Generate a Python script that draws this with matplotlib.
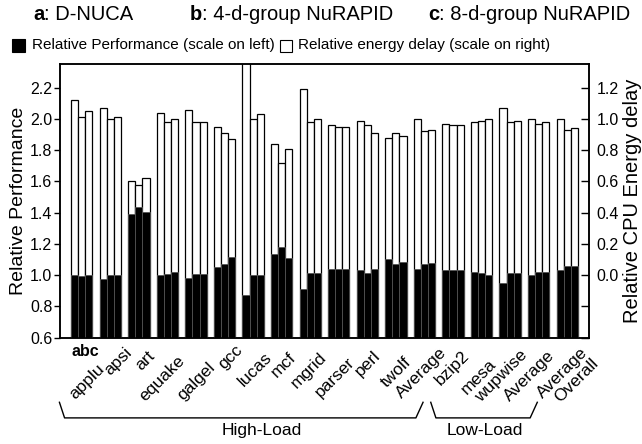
import matplotlib
matplotlib.use("Agg")
import matplotlib.pyplot as plt
import numpy as np
from matplotlib.lines import Line2D
from matplotlib.patches import Rectangle

plt.rcParams["font.family"] = ["Liberation Sans", "DejaVu Sans"]

benchmarks = ["applu", "apsi", "art", "equake", "galgel", "gcc", "lucas", "mcf", "mgrid",
              "parser", "perl", "twolf", "Average", "bzip2", "mesa", "wupwise", "Average",
              "Average\nOverall"]

# relative performance (left scale), configs a / b / c
perf_a = [1.00, 0.975, 1.394, 1.00, 0.984, 1.054, 0.873, 1.133, 0.914, 1.042, 1.033, 1.101,
          1.037, 1.033, 1.022, 0.952, 1.001, 1.033]
perf_b = [0.995, 1.00, 1.438, 1.01, 1.01, 1.071, 1.00, 1.180, 1.012, 1.042, 1.012, 1.074,
          1.071, 1.033, 1.012, 1.012, 1.020, 1.061]
perf_c = [1.00, 1.00, 1.404, 1.018, 1.01, 1.114, 1.00, 1.110, 1.012, 1.042, 1.042, 1.084,
          1.076, 1.033, 1.001, 1.012, 1.018, 1.061]

# relative CPU energy delay (right scale), configs a / b / c
ed_a = [1.12, 1.07, 0.60, 1.04, 1.06, 0.95, 1.45, 0.84, 1.19, 0.96, 0.99, 0.88,
        1.00, 0.97, 0.98, 1.07, 1.00, 1.00]
ed_b = [1.01, 1.00, 0.58, 0.98, 0.98, 0.91, 1.00, 0.72, 0.98, 0.95, 0.96, 0.91,
        0.92, 0.96, 0.99, 0.98, 0.97, 0.93]
ed_c = [1.05, 1.01, 0.62, 1.00, 0.98, 0.87, 1.03, 0.81, 1.00, 0.95, 0.91, 0.89,
        0.93, 0.96, 1.00, 0.99, 0.98, 0.94]

groups = [("High-Load", 0, 12, 6.3), ("Low-Load", 13, 16, 14.1)]

# label placement tweaks (pixels): shift right of group centre, drop below axis
lab_dx = [15, 14, 8, 10, 11, 10, 11, 7, 9, 8, 5, 8, 14, 9, 7, 9, 8, 13]
lab_dy = [24, 7, 10, 15, 22, 5, 12, 12, 12, 17, 10, 17, 7, 10, 19, 10, 10, 7]

W, H = 642, 444
fig = plt.figure(figsize=(W / 100, H / 100), dpi=100)
ax = fig.add_axes([60 / W, 1 - 337.7 / H, 529 / W, 273.7 / H])
ax2 = ax.twinx()
ax.set_zorder(ax2.get_zorder() + 1)
ax.patch.set_visible(False)

x = np.arange(len(benchmarks))
bw = 0.25
for off, ed in zip([-bw, 0, bw], [ed_a, ed_b, ed_c]):
    ax2.bar(x + off, np.array(ed) + 0.4, bottom=-0.4, width=bw, facecolor="white",
            edgecolor="black", linewidth=0.9)
for off, pf in zip([-bw, 0, bw], [perf_a, perf_b, perf_c]):
    ax.bar(x + off, np.array(pf) - 0.6, bottom=0.6, width=bw, facecolor="black",
           edgecolor="#555555", linewidth=0.6)

ax.set_xlim(-0.76, 17.76)
ax.set_ylim(0.6, 2.352)
ax2.set_ylim(-0.4, 1.352)

ax.set_yticks(np.arange(0.6, 2.21, 0.2))
ax.set_yticklabels([f"{v:.1f}" for v in np.arange(0.6, 2.21, 0.2)])
ax2.set_yticks(np.arange(-0.4, 1.21, 0.2))
ax2.set_yticklabels(["", ""] + [f"{v:.1f}" for v in np.arange(0.0, 1.21, 0.2)])
ax.set_xticks([])
ax.tick_params(axis="y", direction="out", length=4, width=1, labelsize=11.5, pad=1.5)
ax2.tick_params(axis="y", direction="in", length=6, width=1, labelsize=11.5, pad=5.5)
for a in (ax, ax2):
    for s in a.spines.values():
        s.set_linewidth(1.1)

ax.set_ylabel("Relative Performance", fontsize=14, labelpad=2)
ax2.set_ylabel("Relative CPU Energy delay", fontsize=14.5, labelpad=3)

px = 0.72  # points per pixel
for i, name in enumerate(benchmarks):
    ax.annotate(name, xy=(i, 0), xycoords=("data", "axes fraction"),
                xytext=(lab_dx[i] * px, -lab_dy[i] * px), textcoords="offset points",
                rotation=45, rotation_mode="anchor", ha="right", va="top", fontsize=12.5,
                linespacing=1.0)

ax.text(0.12, -0.0486, "abc", transform=ax.get_xaxis_transform(), ha="center",
        va="center", fontsize=11.5, fontweight="bold")

# group brackets under the labels
yt, yb = -0.236, -0.293
for name, first, last, lx in groups:
    bx = [first - 0.78, first - 0.6, last - 0.3, last - 0.05]
    ax.add_line(Line2D(bx, [yt, yb, yb, yt], transform=ax.get_xaxis_transform(),
                       color="black", linewidth=1.0, clip_on=False))
    ax.text(lx, -0.34, name, transform=ax.get_xaxis_transform(), ha="center",
            va="center", fontsize=12.5)

# configuration key on top
keys = [("a", ": D-NUCA", 33), ("b", ": 4-d-group NuRAPID", 190), ("c", ": 8-d-group NuRAPID", 428)]
for letter, desc, kx in keys:
    t = fig.text(kx / W, 1 - 14 / H, letter, fontsize=14.5, fontweight="bold",
                 ha="left", va="center")
    ax.annotate(desc, xy=(1, 0), xycoords=t, ha="left", va="bottom", fontsize=14.5,
                annotation_clip=False)

# legend line
ly = 1 - 45.5 / H
fig.add_artist(Rectangle((12 / W, 1 - 52 / H), 13 / W, 13 / H, transform=fig.transFigure,
                         facecolor="black", edgecolor="black", linewidth=0.8))
fig.text(32 / W, ly, "Relative Performance (scale on left)", fontsize=11, ha="left", va="center")
fig.add_artist(Rectangle((280 / W, 1 - 52 / H), 12 / W, 12 / H, transform=fig.transFigure,
                         facecolor="white", edgecolor="black", linewidth=0.8))
fig.text(298 / W, ly, "Relative energy delay (scale on right)", fontsize=11, ha="left", va="center")

fig.savefig("out.png", dpi=100)
